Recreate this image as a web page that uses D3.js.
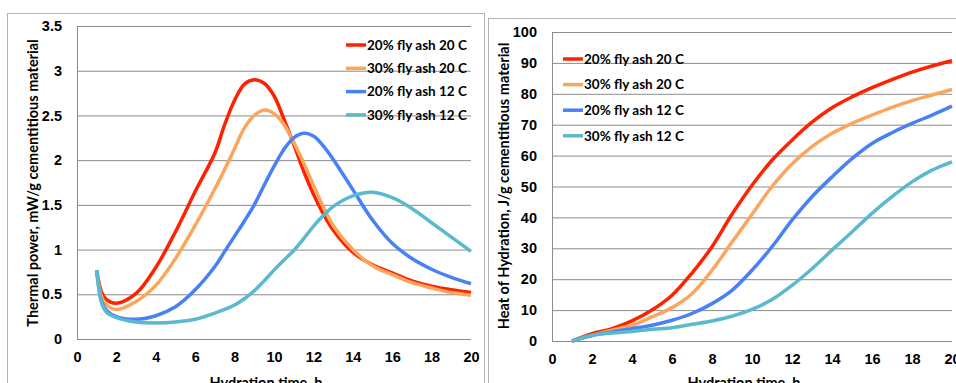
<!DOCTYPE html>
<html lang="en">
<head>
<meta charset="UTF-8">
<title>Thermal power and heat of hydration</title>
<script src="https://cdn.jsdelivr.net/npm/d3@7/dist/d3.min.js"></script>
<style>
  body { margin: 0; background: #fff; }
  svg { display: block; font-family: Lato, "Open Sans", sans-serif; font-weight: 700; }
</style>
</head>
<body>
<script>
// series names and colours
var seriesNames = ["20% fly ash 20 C", "30% fly ash 20 C", "20% fly ash 12 C", "30% fly ash 12 C"];
var seriesColors = ["#ff2200", "#fba65c", "#4a80f6", "#5ab9cc"];

// left chart: thermal power, mW/g
var powerHours = [1, 1.25, 1.5, 2, 3, 4, 5, 6, 7, 7.5, 8, 8.5, 9, 9.5, 10, 10.5, 11, 11.5, 12, 12.5, 13, 14, 15, 16, 17, 18, 19, 20];
var power20fa20 = [0.77, 0.52, 0.44, 0.40, 0.51, 0.80, 1.20, 1.65, 2.08, 2.40, 2.67, 2.85, 2.90, 2.86, 2.72, 2.46, 2.18, 1.88, 1.62, 1.40, 1.22, 0.97, 0.83, 0.74, 0.65, 0.59, 0.55, 0.52];
var power30fa20 = [0.77, 0.47, 0.38, 0.33, 0.42, 0.60, 0.90, 1.27, 1.68, 1.90, 2.13, 2.36, 2.50, 2.56, 2.52, 2.40, 2.20, 1.97, 1.72, 1.48, 1.27, 1.00, 0.82, 0.72, 0.63, 0.57, 0.52, 0.49];
var power20fa12 = [0.77, 0.42, 0.32, 0.25, 0.22, 0.26, 0.36, 0.55, 0.81, 0.98, 1.15, 1.32, 1.50, 1.72, 1.93, 2.12, 2.25, 2.30, 2.27, 2.16, 2.01, 1.67, 1.33, 1.07, 0.90, 0.78, 0.69, 0.62];
var power30fa12 = [0.77, 0.40, 0.30, 0.24, 0.19, 0.18, 0.19, 0.22, 0.29, 0.33, 0.38, 0.45, 0.54, 0.65, 0.77, 0.88, 0.99, 1.12, 1.26, 1.38, 1.48, 1.60, 1.64, 1.58, 1.46, 1.30, 1.14, 0.98];
var powerTicks = [0, 0.5, 1, 1.5, 2, 2.5, 3, 3.5];

// right chart: heat of hydration, J/g
var heatHours = [1, 2, 3, 4, 5, 6, 7, 8, 9, 10, 11, 12, 13, 14, 15, 16, 17, 18, 19, 20];
var heat20fa20 = [0, 2.4, 4.0, 6.5, 10.0, 14.8, 22.0, 30.5, 41.0, 50.4, 58.5, 65.0, 70.8, 75.5, 79.0, 82.0, 84.6, 87.0, 89.0, 90.7];
var heat30fa20 = [0, 1.8, 3.5, 5.1, 7.8, 10.8, 15.3, 22.9, 32.0, 41.0, 50.0, 57.3, 62.9, 67.2, 70.4, 73.1, 75.6, 77.8, 79.6, 81.4];
var heat20fa12 = [0, 1.8, 2.9, 4.0, 5.1, 6.7, 8.9, 12.1, 16.4, 22.9, 30.5, 39.1, 46.7, 53.1, 59.0, 63.9, 67.4, 70.4, 73.1, 76.0];
var heat30fa12 = [0, 1.8, 2.6, 3.1, 3.8, 4.3, 5.4, 6.5, 8.0, 10.2, 13.4, 18.0, 23.4, 29.4, 35.3, 41.3, 46.7, 51.5, 55.3, 58.0];
var heatTicks = [0, 10, 20, 30, 40, 50, 60, 70, 80, 90, 100];

var hourTicks = [0, 2, 4, 6, 8, 10, 12, 14, 16, 18, 20];

var svg = d3.select("body").append("svg")
  .attr("width", 956)
  .attr("height", 383);

function drawPanel(opt) {
  // outer chart frame
  svg.append("rect")
    .attr("x", opt.frame[0]).attr("y", opt.frame[1])
    .attr("width", opt.frame[2]).attr("height", 500)
    .attr("fill", "#fff").attr("stroke", "#b3b3b3").attr("stroke-width", 1);

  var x = d3.scaleLinear().domain([0, 20]).range([opt.left, opt.right]);
  var y = d3.scaleLinear().domain(opt.yDomain).range([opt.bottom, opt.top]);
  var g = svg.append("g");

  // horizontal grid + y labels
  var yAxis = g.append("g")
    .attr("transform", "translate(" + opt.left + ",0)")
    .call(d3.axisLeft(y).tickValues(opt.yTicks).tickSize(-(opt.right - opt.left)).tickSizeOuter(0)
      .tickPadding(15).tickFormat(function(d) { return String(d); }));
  yAxis.selectAll(".tick line").attr("stroke", "#8c8c8c");
  yAxis.select(".domain").attr("stroke", "#8c8c8c");
  yAxis.selectAll("text").attr("font-size", 14.5).attr("fill", "#000");

  // x labels
  var xAxis = g.append("g")
    .attr("transform", "translate(0," + opt.bottom + ")")
    .call(d3.axisBottom(x).tickValues(hourTicks).tickSize(0).tickPadding(13));
  xAxis.select(".domain").remove();
  xAxis.selectAll("text").attr("font-size", 14.5).attr("fill", "#000");

  // axis titles
  g.append("text")
    .attr("transform", "translate(" + opt.yTitleX + "," + opt.yTitleY + ") rotate(-90)")
    .attr("text-anchor", "middle")
    .attr("font-size", 14.5)
    .text(opt.yTitle);
  g.append("text")
    .attr("x", (opt.left + opt.right) / 2 - 8)
    .attr("y", 388)
    .attr("text-anchor", "middle")
    .attr("font-size", 14.5)
    .text("Hydration time, h");

  var line = d3.line()
    .x(function(d) { return x(d[0]); })
    .y(function(d) { return y(d[1]); })
    .curve(d3.curveCatmullRom.alpha(0.5));

  opt.series.forEach(function(vals, i) {
    var pts = opt.hours.map(function(h, j) { return [h, vals[j]]; });
    g.append("path")
      .datum(pts)
      .attr("d", line)
      .attr("fill", "none")
      .attr("stroke", seriesColors[i])
      .attr("stroke-width", 3.5)
      .attr("stroke-linejoin", "round");
  });

  // legend
  var lg = g.append("g");
  seriesNames.forEach(function(name, i) {
    var ly = opt.legendY + i * opt.legendStep;
    lg.append("line")
      .attr("x1", opt.legendX).attr("x2", opt.legendX + 20)
      .attr("y1", ly).attr("y2", ly)
      .attr("stroke", seriesColors[i]).attr("stroke-width", 3.5);
    lg.append("text")
      .attr("x", opt.legendX + 21).attr("y", ly)
      .attr("dy", "0.35em")
      .attr("font-size", 13.5)
      .text(name);
  });
}

drawPanel({
  frame: [7.5, 13.5, 477],
  left: 77, right: 471, top: 26, bottom: 339,
  yDomain: [0, 3.5], yTicks: powerTicks,
  hours: powerHours,
  series: [power20fa20, power30fa20, power20fa12, power30fa12],
  yTitle: "Thermal power, mW/g cementitious material",
  yTitleX: 38, yTitleY: 183,
  legendX: 346, legendY: 45, legendStep: 23.3
});

drawPanel({
  frame: [488.5, 18.5, 500],
  left: 552, right: 952, top: 32, bottom: 341,
  yDomain: [0, 100], yTicks: heatTicks,
  hours: heatHours,
  series: [heat20fa20, heat30fa20, heat20fa12, heat30fa12],
  yTitle: "Heat of Hydration, J/g cementitious material",
  yTitleX: 509, yTitleY: 186,
  legendX: 563, legendY: 59, legendStep: 25.6
});
</script>
</body>
</html>
